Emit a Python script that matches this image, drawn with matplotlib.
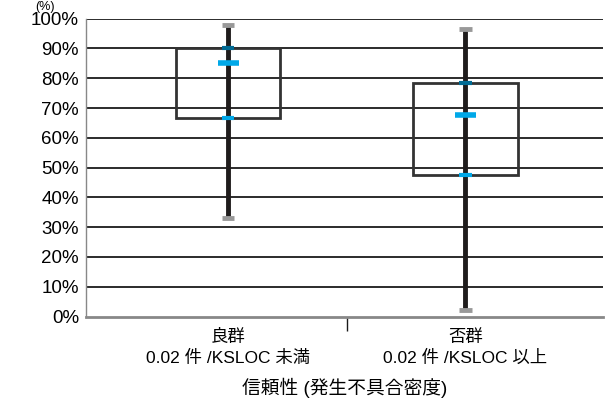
import matplotlib
matplotlib.use('Agg')
import matplotlib.pyplot as plt

plt.rcParams['font.family'] = ['Liberation Sans', 'Noto Sans CJK JP']

# 箱ひげの統計値 (%)
groups = ['良群\n0.02 件 /KSLOC 未満', '否群\n0.02 件 /KSLOC 以上']
maxs = [98, 96.5]
q3 = [90, 78.5]
means = [85, 67.5]
q1 = [66.8, 47.5]
mins = [33, 2.3]
yticks = list(range(0, 101, 10))
ylabels = ['%d%%' % v for v in yticks]

fig = plt.figure(figsize=(6.11, 3.99), dpi=100)
ax = fig.add_axes([86/611, 1 - 316.5/399, 517/611, 297.8/399])

x = list(range(len(groups)))
ax.set_xlim(-0.6, 1.58)
ax.set_ylim(0, 100)

# グリッド
for v in yticks[1:]:
    ax.axhline(v, color='#1a1a1a', lw=1.3, zorder=1)

# 箱
ax.bar(x, [a - b for a, b in zip(q3, q1)], bottom=q1, width=0.44,
       facecolor='none', edgecolor='#333333', lw=2, zorder=2)
# ひげ
ax.vlines(x, mins, maxs, color='#1f1c1c', lw=3.5, zorder=3)
# 端
ax.hlines(maxs, [i - 0.026 for i in x], [i + 0.026 for i in x], color='#999999', lw=3.5, zorder=4)
ax.hlines(mins, [i - 0.026 for i in x], [i + 0.026 for i in x], color='#999999', lw=3.5, zorder=4)
# 四分位・平均
ax.hlines(q3, [i - 0.026 for i in x], [i + 0.026 for i in x], color='#006b94', lw=3, zorder=5)
ax.hlines(q1, [i - 0.026 for i in x], [i + 0.026 for i in x], color='#00a8e8', lw=3, zorder=5)
ax.hlines(means, [i - 0.045 for i in x], [i + 0.045 for i in x], color='#00a8e8', lw=4, zorder=5)

ax.set_yticks(yticks)
ax.set_yticklabels(ylabels, fontsize=13.5)
ax.tick_params(axis='y', length=0, pad=5)
ax.set_xticks(x)
ax.set_xticklabels(groups, fontsize=12.5, linespacing=1.35)
ax.tick_params(axis='x', length=0, pad=9)
ax.set_xticks([0.5], minor=True)
ax.tick_params(axis='x', which='minor', length=10, width=1, color='#1a1a1a', direction='out')

for s in ['top', 'right']:
    ax.spines[s].set_visible(False)
ax.spines['left'].set_color('#888888')
ax.spines['left'].set_linewidth(1)
ax.spines['bottom'].set_color('#888888')
ax.spines['bottom'].set_linewidth(2)

ax.set_xlabel('信頼性 (発生不具合密度)', fontsize=13.5, labelpad=9)
fig.text(35/611, 1 - 1/399, '(%)', fontsize=9, ha='left', va='top')

fig.savefig('out.png', dpi=100)
